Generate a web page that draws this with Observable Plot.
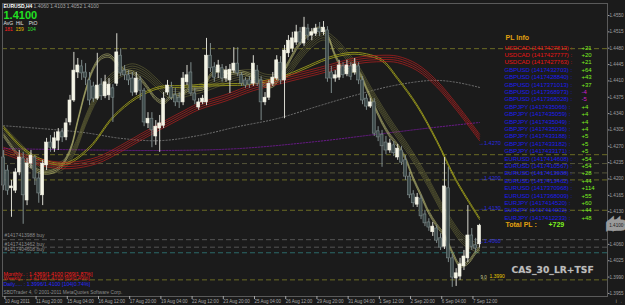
<!DOCTYPE html>
<html><head><meta charset="utf-8">
<script src="https://cdn.jsdelivr.net/npm/d3@7"></script>
<script src="https://cdn.jsdelivr.net/npm/@observablehq/plot@0.6"></script>
<style>
html,body{margin:0;padding:0;background:#1b1b1b;overflow:hidden;}
</style>
</head><body><div id="chart"></div>
<script>
// ---- EURUSD H4 candles (bar index 0..122) ----
const opens = [1.4246,1.4218,1.4180,1.4175,1.4214,1.4244,1.4154,1.4233,1.4246,1.4201,
1.4165,1.4229,1.4278,1.4265,1.4282,1.4300,1.4289,1.4321,1.4368,1.4428,
1.4441,1.4428,1.4411,1.4398,1.4372,1.4402,1.4377,1.4379,1.4394,1.4404,
1.4464,1.4432,1.4422,1.4415,1.4385,1.4411,1.4389,1.4319,1.4329,1.4291,
1.4308,1.4314,1.4385,1.4396,1.4379,1.4374,1.4364,1.4407,1.4428,1.4383,
1.4353,1.4364,1.4364,1.4464,1.4439,1.4428,1.4437,1.4415,1.4411,1.4432,
1.4447,1.4422,1.4411,1.4411,1.4404,1.4432,1.4411,1.4364,1.4374,1.4404,
1.4415,1.4449,1.4411,1.4469,1.4479,1.4492,1.4514,1.4490,1.4522,1.4507,
1.4511,1.4522,1.4514,1.4518,1.4428,1.4415,1.4417,1.4441,1.4424,1.4441,
1.4428,1.4441,1.4411,1.4372,1.4355,1.4364,1.4302,1.4295,1.4278,1.4261,
1.4272,1.4246,1.4261,1.4240,1.4205,1.4167,1.4145,1.4158,1.4124,1.4107,
1.4086,1.4094,1.4073,1.4055,1.4180,1.4030,1.3987,1.3991,1.4013,1.4030,
1.4079,1.4058,1.4060];
const highs = [1.4261,1.4229,1.4197,1.4222,1.4261,1.4257,1.4244,1.4261,1.4250,1.4214,
1.4240,1.4287,1.4293,1.4300,1.4308,1.4308,1.4329,1.4379,1.4471,1.4458,
1.4454,1.4447,1.4428,1.4407,1.4469,1.4415,1.4422,1.4415,1.4402,1.4511,
1.4479,1.4443,1.4432,1.4428,1.4428,1.4419,1.4394,1.4342,1.4342,1.4325,
1.4336,1.4385,1.4411,1.4407,1.4394,1.4385,1.4428,1.4443,1.4449,1.4394,
1.4372,1.4379,1.4501,1.4490,1.4449,1.4454,1.4445,1.4441,1.4445,1.4481,
1.4481,1.4428,1.4417,1.4419,1.4464,1.4443,1.4419,1.4385,1.4411,1.4428,
1.4464,1.4462,1.4486,1.4507,1.4514,1.4529,1.4524,1.4546,1.4531,1.4522,
1.4531,1.4535,1.4537,1.4526,1.4441,1.4432,1.4454,1.4449,1.4454,1.4449,
1.4458,1.4449,1.4419,1.4381,1.4372,1.4372,1.4312,1.4304,1.4291,1.4285,
1.4280,1.4274,1.4270,1.4250,1.4214,1.4175,1.4169,1.4165,1.4133,1.4115,
1.4107,1.4101,1.4083,1.4246,1.4225,1.4038,1.4008,1.4030,1.4047,1.4143,
1.4094,1.4073,1.4103];
const lows = [1.4175,1.4165,1.4118,1.4169,1.4207,1.4103,1.4143,1.4222,1.4186,1.4148,
1.4143,1.4218,1.4257,1.4257,1.4261,1.4278,1.4282,1.4314,1.4364,1.4415,
1.4411,1.4400,1.4357,1.4364,1.4368,1.4368,1.4372,1.4368,1.4321,1.4398,
1.4419,1.4411,1.4400,1.4377,1.4379,1.4368,1.4312,1.4308,1.4267,1.4272,
1.4257,1.4308,1.4379,1.4368,1.4355,1.4351,1.4357,1.4400,1.4377,1.4359,
1.4347,1.4359,1.4357,1.4428,1.4407,1.4415,1.4407,1.4407,1.4383,1.4426,
1.4419,1.4398,1.4394,1.4394,1.4398,1.4398,1.4325,1.4357,1.4368,1.4398,
1.4411,1.4402,1.4329,1.4460,1.4471,1.4486,1.4486,1.4484,1.4496,1.4496,
1.4505,1.4505,1.4507,1.4407,1.4383,1.4407,1.4411,1.4415,1.4419,1.4411,
1.4422,1.4402,1.4359,1.4347,1.4351,1.4291,1.4280,1.4225,1.4252,1.4255,
1.4248,1.4240,1.4229,1.4197,1.4158,1.4139,1.4139,1.4113,1.4098,1.4088,
1.4077,1.4062,1.4047,1.4049,1.4021,1.3968,1.3970,1.3983,1.4004,1.4021,
1.4047,1.4043,1.4052];
const closes = [1.4186,1.4175,1.4184,1.4214,1.4246,1.4165,1.4233,1.4250,1.4201,1.4169,
1.4233,1.4278,1.4267,1.4287,1.4300,1.4289,1.4319,1.4368,1.4432,1.4443,
1.4426,1.4417,1.4368,1.4372,1.4400,1.4377,1.4407,1.4402,1.4374,1.4471,
1.4426,1.4422,1.4411,1.4385,1.4415,1.4389,1.4321,1.4329,1.4304,1.4312,
1.4319,1.4372,1.4400,1.4374,1.4364,1.4364,1.4415,1.4422,1.4383,1.4368,
1.4364,1.4372,1.4464,1.4437,1.4417,1.4443,1.4415,1.4432,1.4434,1.4447,
1.4426,1.4404,1.4400,1.4402,1.4447,1.4404,1.4364,1.4374,1.4404,1.4417,
1.4454,1.4411,1.4475,1.4496,1.4501,1.4514,1.4492,1.4524,1.4507,1.4514,
1.4522,1.4514,1.4524,1.4415,1.4415,1.4422,1.4443,1.4422,1.4443,1.4419,
1.4445,1.4411,1.4368,1.4355,1.4364,1.4297,1.4289,1.4270,1.4261,1.4276,
1.4255,1.4265,1.4235,1.4205,1.4165,1.4148,1.4160,1.4120,1.4105,1.4096,
1.4098,1.4068,1.4053,1.4184,1.4030,1.3989,1.3998,1.4017,1.4034,1.4079,
1.4055,1.4051,1.4100];

// ---- x axis ----
const xTickIndex = [0,8,16,24,32,40,48,56,64,72,80,88,96,104,112,120];
const xTickLabels = ["10 Aug 2011","11 Aug 20:00","15 Aug 04:00","16 Aug 12:00","17 Aug 20:00","19 Aug 04:00","22 Aug 12:00","23 Aug 20:00","25 Aug 04:00","26 Aug 12:00","29 Aug 20:00","31 Aug 04:00","1 Sep 12:00","2 Sep 20:00","6 Sep 04:00","7 Sep 12:00"];
// ---- price axis ----
const yTicks = [1.4550,1.4515,1.4480,1.4445,1.4410,1.4375,1.4340,1.4305,1.4270,1.4235,1.4200,1.4165,1.4130,1.4060,1.4025,1.3990,1.3955];
const lastPrice = 1.4100;

// ---- indicator lines (bar index, price) ----
const redIdx = [0,5,11,17,24,30,35,40,45,50,57,64,71,81,91,97,101,106,111,116,122];
const redVal = [1.4261,1.4246,1.4233,1.4229,1.4240,1.4265,1.4289,1.4312,1.4334,1.4355,1.4374,1.4396,1.4411,1.4432,1.4454,1.4458,1.4456,1.4439,1.4404,1.4355,1.4289];
const oliveIdx = [0,5,10,16,22,28,34,40,45,50,57,63,71,77,83,89,93,97,101,106,111,116,122];
const oliveVal = [1.4310,1.4265,1.4240,1.4233,1.4267,1.4332,1.4374,1.4396,1.4398,1.4400,1.4402,1.4404,1.4417,1.4437,1.4458,1.4469,1.4466,1.4454,1.4415,1.4357,1.4282,1.4197,1.4115];
const midIdx = [0,5,10,15,18,21,24,27,30,33,36,39,42,45,48,52,56,60,64,67,70,73,76,79,82,85,88,91,94,97,100,103,106,109,112,115,118,122];
const midVal = [1.4304,1.4261,1.4222,1.4229,1.4261,1.4325,1.4379,1.4411,1.4428,1.4437,1.4428,1.4407,1.4385,1.4383,1.4389,1.4398,1.4411,1.4422,1.4424,1.4415,1.4415,1.4432,1.4464,1.4492,1.4507,1.4492,1.4464,1.4432,1.4389,1.4347,1.4308,1.4272,1.4233,1.4190,1.4143,1.4101,1.4068,1.4051];
const fastIdx = [0,5,10,14,17,19,21,23,25,27,29,31,33,35,37,39,41,43,45,48,51,53,55,58,61,64,67,69,71,73,75,77,79,81,83,85,87,89,91,93,95,97,99,101,103,105,107,109,111,113,115,117,119,121,122];
const fastVal = [1.4293,1.4240,1.4214,1.4222,1.4261,1.4325,1.4389,1.4437,1.4460,1.4464,1.4449,1.4432,1.4428,1.4415,1.4394,1.4372,1.4364,1.4377,1.4379,1.4394,1.4394,1.4422,1.4432,1.4428,1.4428,1.4419,1.4400,1.4400,1.4422,1.4449,1.4479,1.4501,1.4514,1.4522,1.4507,1.4464,1.4437,1.4432,1.4428,1.4394,1.4357,1.4321,1.4293,1.4272,1.4244,1.4201,1.4165,1.4128,1.4101,1.4079,1.4043,1.4015,1.4021,1.4043,1.4051];
const grayIdx = [0,20,30,40,50,60,70,81,90,100,110,116,122];
const grayVal = [1.4314,1.4300,1.4287,1.4282,1.4293,1.4312,1.4329,1.4357,1.4379,1.4400,1.4411,1.4407,1.4396];
const purpleIdx = [0,40,60,80,95,110,122];
const purpleVal = [1.4265,1.4261,1.4265,1.4280,1.4295,1.4310,1.4321];

// ---- order level lines ----
const levelPrices = [1.4479,1.4252,1.4233,1.4213,1.4198,1.4133,1.4070,1.4054,1.4042,1.3984];
const levelColors = ["#6b6b24","#6b6b24","#55553a","#55553a","#6b6b24","#6b6b24","#555555","#555555","#2c6a6a","#6b6b24"];
const tpLabels = ["1.4270","1.4200","1.4130","1.4060"];
const tpPrices = [1.4274,1.4199,1.4135,1.4064];

// ---- PL info panel ----
const plNames = ["USDCAD (1417427813) :","USDCAD (1417427777) :","USDCAD (1417427763) :","GBPUSD (1417432703) :","GBPUSD (1417428840) :","GBPUSD (1417371013) :","GBPUSD (1417368973) :","GBPUSD (1417368028) :","GBPJPY (1417435066) :","GBPJPY (1417435059) :","GBPJPY (1417435049) :","GBPJPY (1417435036) :","GBPJPY (1417433188) :","GBPJPY (1417433182) :","GBPJPY (1417433171) :","EURUSD (1417414608) :","EURUSD (1417410567) :","EURUSD (1417413988) :","EURUSD (1417413462) :","EURUSD (1417370968) :","EURUSD (1417368009) :","EURJPY (1417414520) :","EURJPY (1417414032) :","EURJPY (1417412233) :"];
const plValues = [21,20,21,64,43,37,-4,-5,4,4,4,4,5,5,5,54,54,28,44,114,55,60,44,48];
const totalPL = 729;

const bars = opens.map((o, i) => ({i, open: o, high: highs[i], low: lows[i], close: closes[i], up: closes[i] >= o}));
const series = (idx, val) => idx.map((d, k) => ({i: d, p: val[k]}));
const red = series(redIdx, redVal), olive = series(oliveIdx, oliveVal), mid = series(midIdx, midVal),
      fast = series(fastIdx, fastVal), gray = series(grayIdx, grayVal), purple = series(purpleIdx, purpleVal);
const levels = levelPrices.map((p, k) => ({p, c: levelColors[k]}));
const tps = tpPrices.map((p, k) => ({p, t: tpLabels[k]}));

const FX = 2, FY = 3; // frame origin
const T = (str, x, y, o = {}) => Plot.text([str], {frameAnchor: "top-left", dx: x - FX, dy: y - FY, lineAnchor: "middle", textAnchor: "start", fontSize: 5.5, fill: "#d0d0d0", ...o});
const lines = (arr, test) => arr.map((v, k) => test(k) ? v : "").join("\n");
const LH = 7.4 / 6;
const ML = (str, x, y, o = {}) => Plot.text([str], {frameAnchor: "top-left", dx: x - FX, dy: y - FY, lineAnchor: "top", lineHeight: LH, textAnchor: "start", fontSize: 6, ...o});

const ribbon = (data, offs, o) => offs.map(dy => Plot.line(data, {x: "i", y: "p", curve: "catmull-rom", dy, ...o}));

const chart = Plot.plot({
  width: 625, height: 305,
  marginTop: FY, marginBottom: 9, marginLeft: FX, marginRight: 18,
  style: {background: "#1b1b1b", color: "#a8a8a8", fontFamily: "'Liberation Sans', Arial, sans-serif"},
  x: {domain: [-0.3, 154.8], axis: null},
  y: {domain: [1.39484, 1.45757], axis: null},
  marks: [
    Plot.ruleY(levels, {y: "p", stroke: "c", strokeDasharray: "5,3", strokeWidth: 1}),
    Plot.line(gray, {x: "i", y: "p", curve: "catmull-rom", stroke: "#7a7a7a", strokeDasharray: "1.2,2", strokeWidth: 0.9}),
    Plot.line(purple, {x: "i", y: "p", curve: "catmull-rom", stroke: "#6a1a8a", strokeDasharray: "1.5,1.5", strokeWidth: 1}),
    ...ribbon(mid, [-4.5, -2.2, 0, 2.2, 4.5], {stroke: "#7c7c40", strokeWidth: 0.6, strokeOpacity: 0.8}),
    ...ribbon(fast, [-1.6, 0, 1.6], {stroke: "#b8b872", strokeWidth: 0.6}),
    ...ribbon(olive, [-0.9, 0.9], {stroke: "#9a9a1c", strokeWidth: 0.9}),
    ...ribbon(red, [-3.2, -1.1, 1.1, 3.2], {stroke: "#b82020", strokeWidth: 0.7}),
    Plot.ruleX(bars, {x: "i", y1: "low", y2: "high", stroke: d => d.up ? "#d8d8d0" : "#7f8c8c", strokeWidth: 1}),
    Plot.rect(bars, {x1: d => d.i - 0.38, x2: d => d.i + 0.38, y1: "open", y2: "close",
      fill: d => d.up ? "#f4f4e6" : "#3e4b4b", stroke: d => d.up ? "#f4f4e6" : "#7f8c8c", strokeWidth: 0.6}),
    Plot.frame({stroke: "#5a5a5a"}),
    Plot.axisY({anchor: "right", ticks: yTicks, tickFormat: d => d.toFixed(4), tickSize: 1.5, tickPadding: 0.5, fontSize: 4.6, color: "#a0a0a0"}),
    Plot.axisX({ticks: xTickIndex, tickFormat: (d, k) => xTickLabels[k], tickSize: 3, tickPadding: 0, textAnchor: "start", dx: 1.2, fontSize: 4.5, color: "#a8a8a8"}),
    Plot.text([lastPrice], {y: d => d, frameAnchor: "right", dx: 8.8, text: d => d.toFixed(4), textAnchor: "middle", fontSize: 4.6, fill: "#1e1e1e", stroke: "#9a9a9a", strokeWidth: 7, strokeLinejoin: "miter"}),
    // top-left info
    T("EURUSD,H4", 3, 5.5, {fill: "#ffffff", fontWeight: "bold", fontSize: 5}),
    T("1.4060 1.4103 1.4052 1.4100", 33, 5.5, {fill: "#a8a8a8", fontSize: 5}),
    T("1.4100", 3, 14.5, {fill: "#22e022", fontWeight: "bold", fontSize: 11}),
    T("AvG  HiL    PtO", 3, 22.7, {fill: "#e0e0e0", fontSize: 5}),
    T("181", 4, 29, {fill: "#ff2020", fontSize: 5}),
    T("159", 15, 29, {fill: "#e0b800", fontSize: 5}),
    T("104", 27, 29, {fill: "#30e030", fontSize: 5}),
    // PL panel
    T("PL Info", 505, 37.3, {fill: "#e0a010", fontWeight: "bold", fontSize: 7}),
    ML(lines(plNames, k => plNames[k].startsWith("USDCAD")), 504, 43.9, {fill: "#e81414"}),
    ML(lines(plNames, k => !plNames[k].startsWith("USDCAD")), 504, 43.9, {fill: "#1c1cf0"}),
    ML(lines(plValues.map(v => "+" + v), k => plValues[k] >= 0), 581, 43.9, {fill: "#7cf020"}),
    ML(lines(plValues.map(String), k => plValues[k] < 0), 581, 43.9, {fill: "#d020d0"}),
    T("Total PL :", 505, 223.8, {fill: "#e0a010", fontWeight: "bold", fontSize: 7}),
    T("+" + totalPL, 548, 223.8, {fill: "#7cf020", fontWeight: "bold", fontSize: 7}),
    // level labels
    Plot.text(tps, {y: "p", text: d => "\u2192" + d.t, frameAnchor: "left", dx: 476, dy: -1, textAnchor: "start", fontSize: 5.5, fill: "#2a2ae0"}),
    T("9.0", 480, 277, {fill: "#c8c890", fontSize: 4.5}),
    T("1.3990", 489, 276, {fill: "#e8c800", fontSize: 5}),
    T("#1417413988 buy", 4, 235, {fill: "#8c8c8c", fontSize: 5}),
    T("#1417413462 buy", 4, 244, {fill: "#8c8c8c", fontSize: 5}),
    T("#1417404608 buy", 4, 249, {fill: "#8c8c8c", fontSize: 5}),
    // bottom-left stats
    T("Monthly.. : 1.4369/1.4100 [269|1.87%]", 3, 273.3, {fill: "#ff1c1c", fontSize: 5.3}),
    T("Weekly... : 1.4169/1.4100 [69|0.49%]", 3, 278, {fill: "#e01818", fontSize: 5.3}),
    T("Daily..... : 1.3996/1.4100 [104|0.74%]", 3, 283.5, {fill: "#2828ff", fontSize: 5.3}),
    T("SBDTrader 4, \u00a9 2001-2011 MetaQuotes Software Corp.", 3, 292, {fill: "#8a8a8a", fontSize: 4.8}),
    // watermark
    T("CAS_30_LR+TSF", 511, 270, {fill: "#bdbdbd", fontWeight: "bold", fontSize: 9.2, fontFamily: "'DejaVu Sans', sans-serif", stroke: "#555", strokeWidth: 0.5})
  ]
});
document.getElementById("chart").appendChild(chart);
</script>
</body></html>
